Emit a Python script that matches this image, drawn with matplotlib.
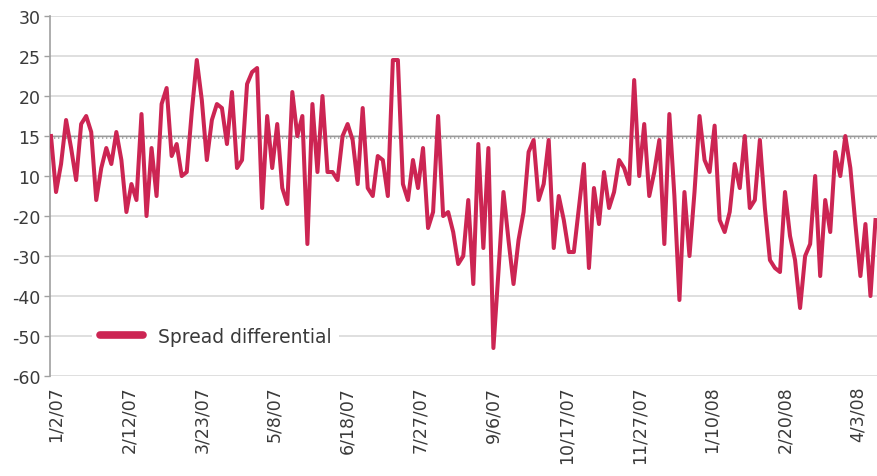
import matplotlib
matplotlib.use("Agg")
import matplotlib.pyplot as plt
import matplotlib.transforms as mtransforms
import numpy as np

# spread differential, every 2nd business day (axis position units)
spread = [
    0, -14, -7, 4, -3, -11, 3, 5, 1, -16, -8, -3, -7, 1, -6, -19, -12, -16, 5.5, -20,
    -3, -15, 8, 12, -5, -2, -10, -9, 6, 19, 9, -6, 4,
    8, 7, -2, 11, -8, -6, 13, 16, 17, -18, 5, -8, 3, -13, -17, 11, 0, 5, -27, 8,
    -9, 10, -9, -9, -11, 0, 3, -1, -12, 7, -13, -15, -5,
    -6, -15, 19, 19, -12, -16, -6, -13, -3, -23, -19, 5, -20, -19, -24, -32, -30, -16,
    -37, -2, -28, -3, -53, -34, -14, -26, -37, -26, -19, -4, -1, -16, -12,
    -1, -28, -15, -21, -29, -29, -18, -7, -33, -13, -22, -9, -18, -14, -6, -8, -12, 14,
    -10, 3, -15, -9, -1, -27, 5.5, -15, -41, -14, -30, -14, 5, -6, -9,
    2.6, -21, -24, -19, -7, -13, 0, -18, -16, -1, -18, -31, -33, -34, -14, -25, -31,
    -43, -30, -27, -10, -35, -16, -24, -4, -10, 0, -8, -22, -35, -22, -40, -21,
]
day_step = 2  # business days between readings

date_labels = ['1/2/07', '2/12/07', '3/23/07', '5/8/07', '6/18/07', '7/27/07',
               '9/6/07', '10/17/07', '11/27/07', '1/10/08', '2/20/08', '4/3/08']
label_every = 29  # business days between date labels

y_ticks = [-60, -50, -40, -30, -20, -10, 0, 10, 20, 30]
y_labels = ['-60', '-50', '-40', '-30', '-20', '10', '15', '20', '25', '30']

line_color = '#cc2553'
text_color = '#3a3a3a'

plt.rcParams['font.family'] = ['DejaVu Sans']

fig = plt.figure(figsize=(8.77, 4.77), dpi=100)
ax = fig.add_axes([0.057, 0.2096, 0.943, 0.7547])

x = np.arange(len(spread)) * day_step
ax.plot(x, spread, color=line_color, lw=2.9, solid_joinstyle='round',
        label='Spread differential', zorder=3)

# reference line at the "15" level
ax.axhline(0, color='#9a9a9a', lw=1.0, zorder=2)
ax.axhline(-0.45, color='#a0a0a0', lw=1.2, ls=(0, (0.8, 1.6)), zorder=2)

ax.set_ylim(-60, 30)
ax.set_xlim(-0.4, 328.6)
ax.set_yticks(y_ticks)
ax.set_yticklabels(y_labels)
ax.set_xticks(np.arange(len(date_labels)) * label_every)
ax.set_xticklabels(date_labels, rotation=90)

ax.grid(axis='y', color='#d9d9d9', lw=1.2, zorder=1)
ax.set_axisbelow(True)
for side in ['top', 'right', 'bottom']:
    ax.spines[side].set_visible(False)
ax.spines['left'].set_color('#a0a0a0')
ax.spines['left'].set_linewidth(1.2)

ax.tick_params(axis='y', colors='#a0a0a0', length=4, width=1, labelcolor=text_color,
               labelsize=12.5, pad=3)
ax.tick_params(axis='x', length=0, labelcolor=text_color, labelsize=12.5, pad=7)

# labels sit a few pixels right of the category position
offset = mtransforms.ScaledTranslation(5 / 100, 0, fig.dpi_scale_trans)
for lbl in ax.get_xticklabels():
    lbl.set_transform(lbl.get_transform() + offset)

leg = ax.legend(loc='center left', bbox_to_anchor=(0.04, 0.111), frameon=True,
                fontsize=13.5, handlelength=2.3, handletextpad=0.8, borderpad=0.4)
leg.get_frame().set_facecolor('white')
leg.get_frame().set_edgecolor('none')
leg.get_frame().set_alpha(1)
for t in leg.get_texts():
    t.set_color(text_color)
for h in leg.get_lines():
    h.set_linewidth(5.5)
    h.set_solid_capstyle('round')

fig.savefig('out.png', dpi=100)
